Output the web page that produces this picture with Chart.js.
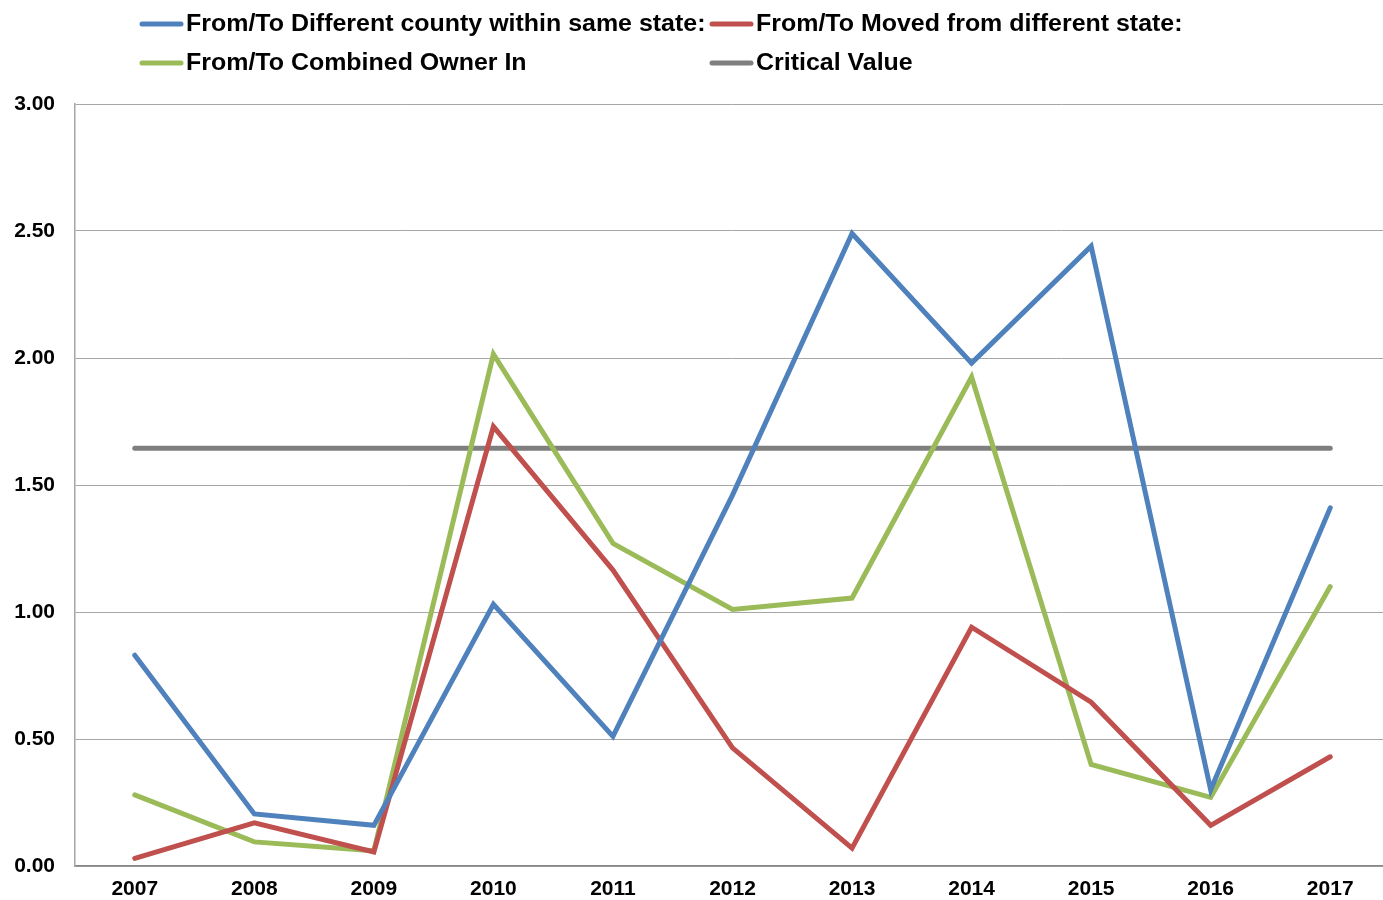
<!DOCTYPE html>
<html><head><meta charset="utf-8">
<script src="https://cdn.jsdelivr.net/npm/chart.js@4"></script>
<style>html,body{margin:0;padding:0;background:#fff;overflow:hidden}#wrap{width:1383px;height:900px;position:relative;overflow:hidden}</style>
</head><body><div id="wrap"><canvas id="c" width="1390" height="900"></canvas></div>
<script>
const years = ['2007','2008','2009','2010','2011','2012','2013','2014','2015','2016','2017'];
const sameStateCounty = [0.83, 0.205, 0.16, 1.03, 0.51, 1.46, 2.49, 1.98, 2.44, 0.30, 1.41];
const differentState = [0.03, 0.17, 0.055, 1.73, 1.165, 0.465, 0.07, 0.94, 0.645, 0.16, 0.43];
const combinedOwnerIn = [0.28, 0.095, 0.06, 2.015, 1.27, 1.01, 1.055, 1.925, 0.40, 0.27, 1.10];
const criticalValue = [1.645, 1.645, 1.645, 1.645, 1.645, 1.645, 1.645, 1.645, 1.645, 1.645, 1.645];
const seriesNames = ['From/To Different county within same state:', 'From/To Moved from different state:', 'From/To Combined Owner In', 'Critical Value'];
const yTicks = [0, 0.5, 1, 1.5, 2, 2.5, 3];

const colors = ['#4F81BD', '#C0504D', '#9BBB59', '#7F7F7F'];
const font = '"Liberation Sans", Arial, sans-serif';

const legendPlugin = {
  id: 'customLegend',
  afterDraw(chart) {
    const ctx = chart.ctx;
    const pos = [[140, 24], [710, 24], [140, 63], [710, 63]];
    ctx.save();
    ctx.font = 'bold 23px ' + font;
    ctx.textBaseline = 'middle';
    ctx.textAlign = 'left';
    chart.data.datasets.forEach((ds, i) => {
      const [x, y] = pos[i];
      ctx.strokeStyle = ds.borderColor;
      ctx.lineWidth = 5;
      ctx.lineCap = 'round';
      ctx.beginPath(); ctx.moveTo(x + 2, y); ctx.lineTo(x + 41, y); ctx.stroke();
      ctx.fillStyle = '#000';
      ctx.save();
      ctx.translate(x + 46, y + 1);
      ctx.scale(1.085, 1);
      ctx.fillText(ds.label, 0, 0);
      ctx.restore();
    });
    ctx.restore();
  }
};

const mk = (label, data, color) => ({
  label, data, borderColor: color, backgroundColor: color, borderWidth: 5,
  pointRadius: 0, pointHoverRadius: 0, tension: 0, fill: false,
  borderCapStyle: 'round', borderJoinStyle: 'miter'
});

new Chart(document.getElementById('c'), {
  type: 'line',
  data: {
    labels: years,
    datasets: [
      mk(seriesNames[0], sameStateCounty, colors[0]),
      mk(seriesNames[1], differentState, colors[1]),
      mk(seriesNames[2], combinedOwnerIn, colors[2]),
      mk(seriesNames[3], criticalValue, colors[3])
    ]
  },
  options: {
    responsive: false, animation: false,
    layout: { padding: { top: 104, left: 0, right: 0, bottom: 0 } },
    plugins: { legend: { display: false }, tooltip: { enabled: false } },
    scales: {
      x: {
        offset: true,
        afterFit(scale) { scale.height = 34; },
        grid: { display: false, drawTicks: false },
        border: { display: true, color: '#888', width: 1.5 },
        ticks: { color: '#000', font: { family: font, size: 21, weight: 'bold' }, padding: 11, maxRotation: 0 }
      },
      y: {
        min: 0, max: 3,
        afterBuildTicks(scale) { scale.ticks = yTicks.map(v => ({ value: v })); },
        afterFit(scale) { scale.width = 75; },
        grid: { color: '#A6A6A6', lineWidth: 1, drawTicks: false },
        border: { display: true, color: '#A6A6A6', width: 1.5 },
        ticks: { color: '#000', font: { family: font, size: 21, weight: 'bold' }, padding: 20,
          callback: v => Number(v).toFixed(2) }
      }
    }
  },
  plugins: [legendPlugin]
});
</script></body></html>
